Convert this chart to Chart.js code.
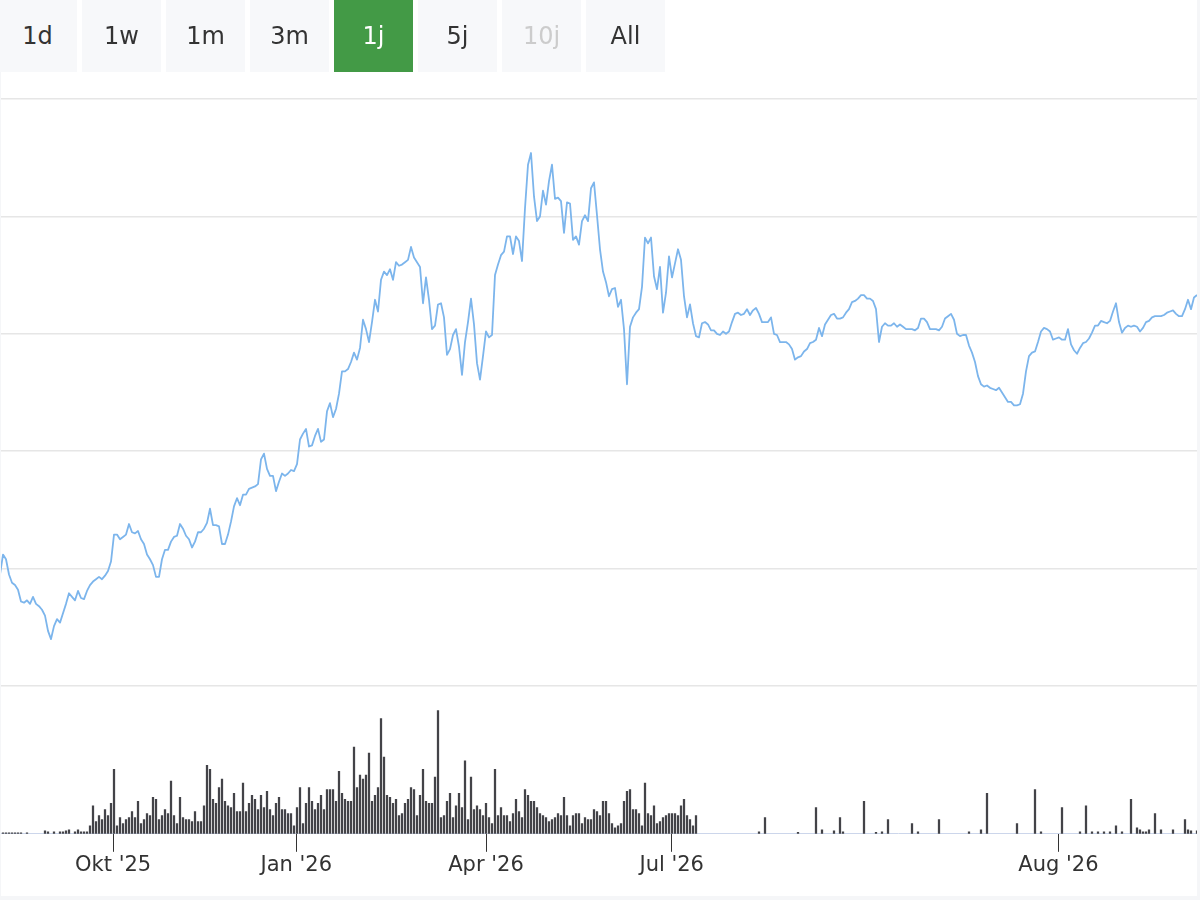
<!DOCTYPE html>
<html>
<head>
<meta charset="utf-8">
<script src="https://cdn.jsdelivr.net/npm/chart.js@4.4.1/dist/chart.umd.min.js"></script>
<style>
html,body{margin:0;padding:0;background:#fff;}
#wrap{position:relative;width:1200px;height:900px;overflow:hidden;background:#fff;}
#c{position:absolute;left:0;top:0;}
.btn{position:absolute;top:0;height:72px;width:79px;background:#f7f8fa;color:#333333;
  font-family:"DejaVu Sans",sans-serif;font-size:24px;display:flex;align-items:center;justify-content:center;}
.btn.active{background:#439a46;color:#ffffff;}
.btn.disabled{color:#cccccc;}
.edge{position:absolute;background:#f5f6f8;}
</style>
</head>
<body>
<div id="wrap">
  <canvas id="c" width="1200" height="900"></canvas>
  <div id="btns"></div>
  <div class="edge" style="left:0;top:72px;width:1px;height:828px;"></div>
  <div class="edge" style="left:1197px;top:0;width:3px;height:900px;"></div>
  <div class="edge" style="left:0;top:896px;width:1200px;height:4px;"></div>
</div>
<script>
// Range selector buttons
const rangeButtons = ["1d","1w","1m","3m","1j","5j","10j","All"];
const activeButton = "1j";
const disabledButtons = ["10j"];

// X axis: ordinal trading-slot axis, labelled months
const xTickLabels = ["Okt '25","Jan '26","Apr '26","Jul '26","Aug '26"];
const xTickSlots = [37.7, 98.75, 162, 223.9, 352.8];

// Closing price per slot (slot 0 .. 399)
const price = [
19.5,21.2,20.8,19.5,18.8,18.6,18.2,17.2,17.1,17.3,
17.0,17.6,17.0,16.8,16.5,16.0,14.7,14.0,15.1,15.7,
15.4,16.2,17.0,17.9,17.6,17.3,18.1,17.5,17.4,18.1,
18.6,18.9,19.1,19.3,19.1,19.4,19.8,20.6,22.9,22.9,
22.5,22.7,22.9,23.8,23.1,23.0,23.2,22.5,22.1,21.2,
20.8,20.3,19.3,19.3,20.8,21.6,21.6,22.3,22.7,22.8,
23.8,23.4,22.8,22.5,21.8,22.3,23.1,23.1,23.4,23.9,
25.1,23.7,23.7,23.6,22.1,22.1,22.9,24.0,25.3,26.0,
25.4,26.3,26.3,26.8,26.9,27.0,27.2,29.3,29.8,28.5,
27.9,27.9,26.6,27.4,28.1,27.9,28.1,28.4,28.3,28.9,
31.0,31.5,31.9,30.4,30.5,31.3,31.9,30.8,31.0,33.4,
34.1,32.9,33.6,34.9,36.8,36.8,37.0,37.6,38.4,37.8,
38.8,41.2,40.4,39.3,41.0,42.9,41.9,44.6,45.3,45.0,
45.5,44.6,46.1,45.8,45.9,46.1,46.3,47.4,46.5,46.1,
45.7,42.6,44.8,42.9,40.4,40.7,42.5,42.6,41.4,38.2,
38.7,39.9,40.4,38.9,36.5,39.3,41.0,43.0,40.8,37.5,
36.1,38.1,40.2,39.7,39.9,45.0,45.9,46.7,47.0,48.3,
48.3,46.8,48.3,47.9,46.2,50.7,54.4,55.4,51.7,49.6,
50.0,52.2,51.0,53.0,54.4,51.5,51.6,51.3,48.6,51.2,
51.1,48.0,48.3,47.6,49.6,50.1,49.6,52.4,52.9,50.1,
47.2,45.3,44.4,43.2,43.8,43.9,42.3,42.9,40.4,35.7,
40.6,41.4,41.8,42.1,44.0,48.2,47.7,48.2,44.9,43.8,
45.7,41.8,43.5,46.6,44.8,46.0,47.2,46.3,43.2,41.4,
42.5,40.9,39.8,39.7,40.9,41.0,40.8,40.3,40.3,40.0,
39.9,40.2,40.0,40.2,41.0,41.7,41.8,41.6,41.7,42.1,
41.6,42.0,42.2,41.7,41.0,41.0,41.0,41.4,40.0,39.9,
39.3,39.3,39.3,39.1,38.7,37.8,38.0,38.1,38.5,38.7,
39.2,39.3,39.5,40.5,39.8,40.8,41.2,41.6,41.7,41.3,
41.3,41.4,41.8,42.1,42.7,42.8,43.0,43.3,43.3,43.0,
43.0,42.8,42.1,39.3,40.6,40.9,40.7,40.7,40.9,40.6,
40.8,40.6,40.4,40.4,40.4,40.3,40.5,41.3,41.3,41.0,
40.4,40.4,40.4,40.3,40.6,41.3,41.5,41.7,41.2,40.0,
39.8,39.9,39.9,39.0,38.4,37.6,36.4,35.7,35.5,35.6,
35.4,35.3,35.2,35.4,35.0,34.6,34.2,34.2,33.9,33.9,
34.0,34.9,36.8,38.1,38.4,38.5,39.3,40.2,40.5,40.4,
40.2,39.5,39.6,39.7,39.5,39.5,40.4,39.1,38.6,38.3,
38.8,39.2,39.3,39.6,40.1,40.7,40.7,41.1,41.0,40.9,
41.1,41.9,42.6,41.0,40.1,40.5,40.7,40.6,40.7,40.6,
40.2,40.5,41.0,41.1,41.4,41.5,41.5,41.5,41.6,41.8,
41.9,42.0,41.7,41.5,41.5,42.1,42.9,42.1,43.1,43.3
];

// Volume per slot, slots 0 .. 232 (daily trading)
const volumeDaily = [
0,2,2,2,2,2,2,2,0,2,
0,0,0,0,0,
6,4,0,4,0,4,4,6,8,0,4,8,4,4,4,16,
57,25,37,29,49,37,62,131,16,33,
21,29,33,45,33,66,21,29,41,37,
74,70,29,37,49,41,107,37,21,74,
33,29,29,25,45,25,25,57,139,131,
70,62,94,111,66,57,53,82,45,45,
103,45,62,78,70,49,78,53,86,49,
37,62,74,49,49,41,41,16,53,94,
21,62,94,66,49,62,78,49,90,90,
90,66,127,82,70,66,66,176,94,119,
111,119,164,66,78,94,234,156,78,74,
62,70,37,
41,62,70,94,90,37,78,131,66,62,
62,115,250,33,37,66,82,33,57,82,
53,148,29,115,49,57,49,37,62,33,
21,131,37,53,37,37,25,41,70,45,
33,90,78,66,66,53,41,37,33,25,
29,33,41,37,74,37,16,37,41,41,
21,33,29,29,49,45,37,66,66,41,
21,12,16,21,66,86,90,49,49,41,
16,103,41,37,57,21,25,33,37,41,
41,41,37,57,70,37,29,16,37
];

// Sparse volume after July: slot indices and values
const lateVolumeSlot = [253,255,266,272,274,278,280,281,288,292,294,296,304,306,313,323,327,329,339,345,347,354,360,362,364,366,368,370,372,374,377,379,380,381,382,383,385,387,391,395,396,397,399];
const lateVolume     = [4,33,3,53,8,6,33,4,66,3,4,29,21,4,29,4,8,82,21,90,4,53,4,57,4,4,4,4,16,4,70,12,8,4,4,8,41,8,8,29,8,6,6];

// ---- build buttons ----
const btnHost = document.getElementById('btns');
rangeButtons.forEach((label, i) => {
  const d = document.createElement('div');
  d.className = 'btn' + (label === activeButton ? ' active' : '') + (disabledButtons.includes(label) ? ' disabled' : '');
  d.style.left = (i * 84 - 2) + 'px';
  d.textContent = label;
  btnHost.appendChild(d);
});

// ---- build chart ----
const pricePoints = price.map((v, i) => ({x: i, y: v}));
const volumePoints = volumeDaily.map((v, i) => ({x: i, y: v}))
  .concat(lateVolumeSlot.map((s, k) => ({x: s, y: lateVolume[k]})))
  .filter(p => p.y > 0);

new Chart(document.getElementById('c').getContext('2d'), {
  type: 'line',
  data: {
    datasets: [
      {
        type: 'line',
        data: pricePoints,
        yAxisID: 'y',
        borderColor: '#7cb5ec',
        borderWidth: 1.8,
        pointRadius: 0,
        tension: 0,
        fill: false,
        borderJoinStyle: 'round'
      },
      {
        type: 'bar',
        data: volumePoints,
        yAxisID: 'yv',
        backgroundColor: '#434348',
        barThickness: 1.6,
        borderWidth: 0
      }
    ]
  },
  options: {
    animation: false,
    responsive: false,
    events: [],
    layout: {padding: {top: 99, left: 0, right: 3, bottom: 21}},
    plugins: {legend: {display: false}, tooltip: {enabled: false}},
    scales: {
      x: {
        type: 'linear',
        min: 0,
        max: 399,
        offset: false,
        afterBuildTicks: (s) => { s.ticks = xTickSlots.map(v => ({value: v})); },
        ticks: {
          autoSkip: false,
          maxRotation: 0,
          padding: 1,
          color: '#333333',
          font: {family: 'DejaVu Sans', size: 21},
          callback: (v, i) => xTickLabels[i]
        },
        grid: {drawOnChartArea: false, drawTicks: true, tickLength: 18, tickColor: '#333333', tickWidth: 1, offset: false},
        border: {display: true, color: '#ccd6eb', width: 1}
      },
      y: {
        type: 'linear',
        position: 'right',
        stack: 'panes',
        stackWeight: 588,
        weight: 0,
        min: 10,
        max: 60,
        ticks: {display: false, stepSize: 10},
        grid: {color: '#e6e6e6', lineWidth: 1.5, drawTicks: false},
        border: {display: false}
      },
      yv: {
        type: 'linear',
        position: 'right',
        stack: 'panes',
        stackWeight: 148,
        weight: 1,
        min: 0,
        max: 300,
        display: false
      }
    }
  }
});
</script>
</body>
</html>
